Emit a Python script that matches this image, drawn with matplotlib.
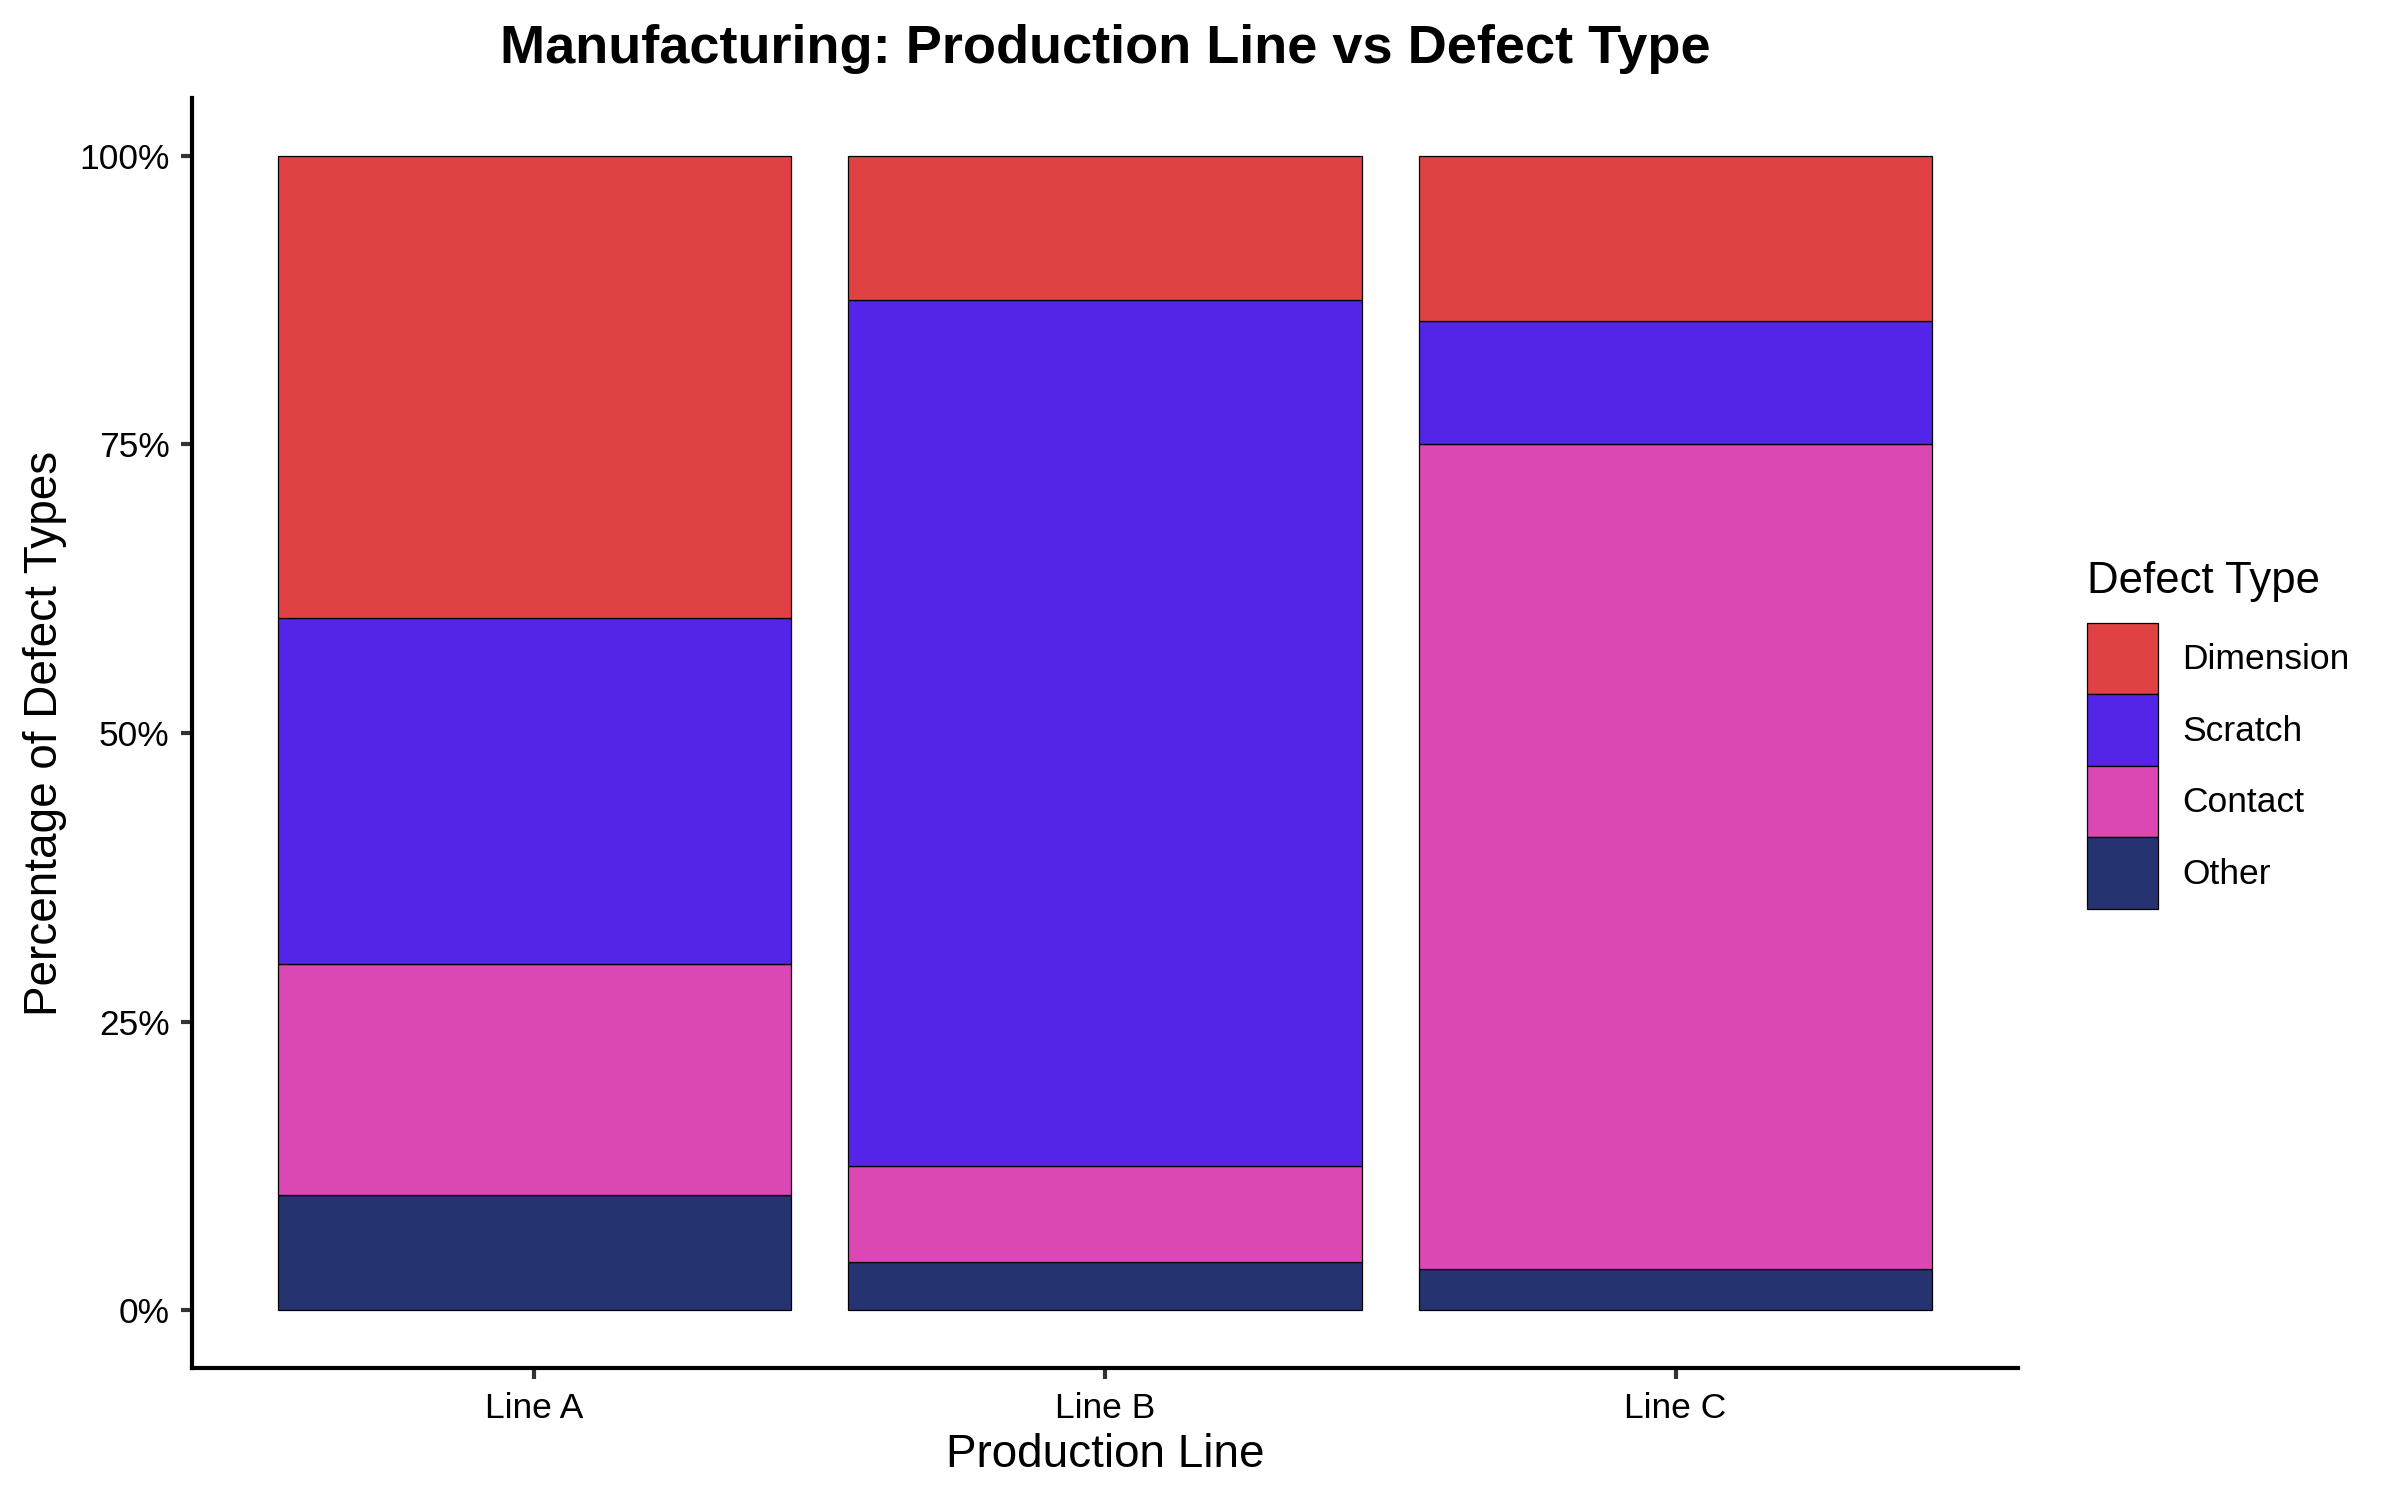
import matplotlib
matplotlib.use("Agg")
import matplotlib.pyplot as plt
import numpy as np
from matplotlib.patches import Patch
from matplotlib.ticker import FuncFormatter

plt.rcParams['font.family'] = ['Liberation Sans', 'DejaVu Sans']

lines = ["Line A", "Line B", "Line C"]
defects = ["Dimension", "Scratch", "Contact", "Other"]
dimension = [40.0, 12.5, 14.29]
scratch = [30.0, 75.0, 10.71]
contact = [20.0, 8.33, 71.43]
other = [10.0, 4.17, 3.57]
colors = {"Dimension": "#E04142", "Scratch": "#5425E8", "Contact": "#DB48B4", "Other": "#253370"}

values = {"Dimension": dimension, "Scratch": scratch, "Contact": contact, "Other": other}
stack_order = ["Other", "Contact", "Scratch", "Dimension"]

W, H = 2400, 1500
L, R, T, B = 192, 2018, 98, 1368
fig = plt.figure(figsize=(16, 10), dpi=150)
ax = fig.add_axes([L / W, 1 - B / H, (R - L) / W, (B - T) / H])

x = np.arange(len(lines))
bottom = np.zeros(len(lines))
for d in stack_order:
    v = np.array(values[d])
    ax.bar(x, v, bottom=bottom, width=0.9, color=colors[d], edgecolor="black", linewidth=0.6)
    bottom += v

ax.set_xlim(-0.6, 2.6)
ax.set_ylim(-5, 105)
ax.set_xticks(x)
ax.set_xticklabels(lines)
ax.set_yticks([0, 25, 50, 75, 100])
ax.yaxis.set_major_formatter(FuncFormatter(lambda v, p: f"{int(v)}%"))
ax.tick_params(axis="both", labelsize=17, length=5.3, width=2.0, color="#333333", labelcolor="black")
ax.tick_params(axis="y", pad=5.5)
ax.tick_params(axis="x", pad=6)

for s in ["top", "right"]:
    ax.spines[s].set_visible(False)
for s in ["left", "bottom"]:
    ax.spines[s].set_linewidth(2.0)
    ax.spines[s].set_color("black")

ax.set_xlabel("Production Line", fontsize=22, va="baseline")
ax.xaxis.set_label_coords((L + R) / 2 / W, 1 - 1467 / H, transform=fig.transFigure)
ax.set_ylabel("Percentage of Defect Types", fontsize=22, va="baseline")
ax.yaxis.set_label_coords(57 / W, 1 - (T + B) / 2 / H, transform=fig.transFigure)

ax.set_title("Manufacturing: Production Line vs Defect Type", fontsize=26,
             fontweight="bold", va="baseline", y=1.0, pad=(T - 63) * 72 / 150)

fig.text(2087 / W, 1 - 593 / H, "Defect Type", fontsize=21, ha="left", va="baseline")

fs = 17
fs_px = fs * 150 / 72
key_px = 71.5
hh = (key_px / fs_px - 0.245) / 0.65
handles = [Patch(facecolor=colors[d], edgecolor="black", linewidth=0.6) for d in defects]
leg = fig.legend(handles, defects, loc="upper left", bbox_to_anchor=(2087 / W, 1 - 623 / H),
                 frameon=False, fontsize=fs,
                 handlelength=71 / fs_px, handleheight=hh, labelspacing=0.0,
                 handletextpad=24 / fs_px, borderaxespad=0, borderpad=0)

fig.savefig("out.png", dpi=150)
